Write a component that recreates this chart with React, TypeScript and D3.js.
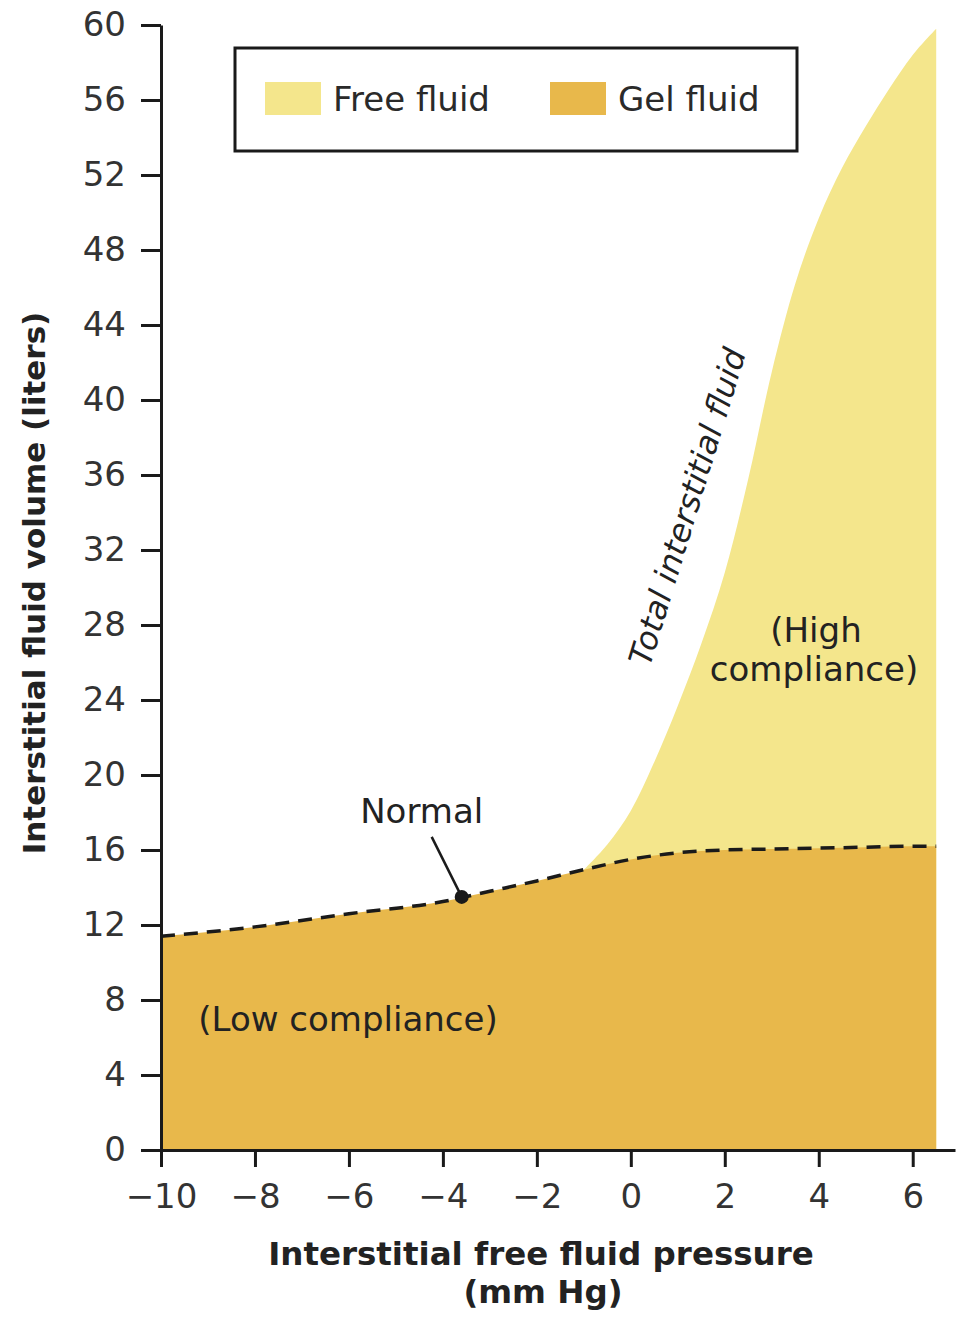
import React, { useEffect, useRef } from 'react';
import * as d3 from 'd3';

// Interstitial fluid volume vs interstitial free fluid pressure.
// Gel fluid fills the bottom; free fluid sits on top of it once pressure goes positive.

const W = 961;
const H = 1318;

const pressure = [-10, -8, -6, -4, -3, -2, -1, 0, 1, 2, 3, 4, 5, 6, 6.5];
const gelVolume = [11.4, 11.9, 12.6, 13.25, 13.8, 14.35, 14.95, 15.5, 15.85, 16.0, 16.05, 16.1, 16.15, 16.2, 16.2];

const totalPressure = [-1.0, -0.5, 0, 0.5, 1.0, 1.5, 2.0, 2.5, 3.0, 3.5, 4.0, 4.5, 5.0, 5.5, 6.0, 6.5];
const totalVolume = [14.95, 16.3, 18.1, 20.7, 23.7, 27.0, 30.8, 35.8, 41.5, 46.2, 49.7, 52.4, 54.6, 56.6, 58.4, 59.8];

const normalPressure = -3.6;
const normalVolume = 13.5;

const xTicks = [-10, -8, -6, -4, -2, 0, 2, 4, 6];
const yTicks = [0, 4, 8, 12, 16, 20, 24, 28, 32, 36, 40, 44, 48, 52, 56, 60];

const legendLabels = ['Free fluid', 'Gel fluid'];

const FREE_COLOR = '#f4e68c';
const GEL_COLOR = '#e8b84b';
const INK = '#222';
const FONT = '"DejaVu Sans", Verdana, sans-serif';

const App = () => {
  const svgRef = useRef<SVGSVGElement>(null);

  useEffect(() => {
    const svg = d3.select(svgRef.current);
    svg.selectAll('*').remove();

    const x = d3.scaleLinear().domain([-10, 6.9]).range([161, 955]);
    const y = d3.scaleLinear().domain([0, 60]).range([1150, 25]);

    svg.append('rect').attr('width', W).attr('height', H).attr('fill', '#fff');

    // free fluid (total interstitial) area, gel drawn over it
    const totalArea = d3.area<number>()
      .x((d, i) => x(totalPressure[i]))
      .y0(y(0))
      .y1(d => y(d))
      .curve(d3.curveCatmullRom.alpha(0.5));

    svg.append('path')
      .attr('d', totalArea(totalVolume))
      .attr('fill', FREE_COLOR);

    const gelArea = d3.area<number>()
      .x((d, i) => x(pressure[i]))
      .y0(y(0))
      .y1(d => y(d))
      .curve(d3.curveMonotoneX);

    svg.append('path')
      .attr('d', gelArea(gelVolume))
      .attr('fill', GEL_COLOR);

    const gelLine = d3.line<number>()
      .x((d, i) => x(pressure[i]))
      .y(d => y(d))
      .curve(d3.curveMonotoneX);

    svg.append('path')
      .attr('d', gelLine(gelVolume))
      .attr('fill', 'none')
      .attr('stroke', '#1a1a1a')
      .attr('stroke-width', 3.5)
      .attr('stroke-dasharray', '14 9');

    // axes
    const yAxis = svg.append('g')
      .attr('transform', `translate(${x(-10)},0)`)
      .call(d3.axisLeft(y).tickValues(yTicks).tickSize(20).tickSizeOuter(0).tickPadding(15).tickFormat(d3.format('d')));

    const xAxis = svg.append('g')
      .attr('transform', `translate(0,${y(0)})`)
      .call(d3.axisBottom(x).tickValues(xTicks).tickSize(17).tickSizeOuter(0).tickPadding(17));

    [yAxis, xAxis].forEach(ax => {
      ax.select('.domain').attr('stroke', '#1a1a1a').attr('stroke-width', 3);
      ax.selectAll('.tick line').attr('stroke', '#1a1a1a').attr('stroke-width', 3);
      ax.selectAll('.tick text')
        .attr('fill', '#333')
        .style('font-family', FONT)
        .style('font-size', '34px');
    });

    // axis titles
    svg.append('text')
      .attr('transform', `translate(45,${583}) rotate(-90)`)
      .attr('text-anchor', 'middle')
      .attr('fill', INK)
      .style('font-family', FONT)
      .style('font-weight', 'bold')
      .style('font-size', '31px')
      .text('Interstitial fluid volume (liters)');

    svg.append('text')
      .attr('x', 541)
      .attr('y', 1265)
      .attr('text-anchor', 'middle')
      .attr('fill', INK)
      .style('font-family', FONT)
      .style('font-weight', 'bold')
      .style('font-size', '32.5px')
      .text('Interstitial free fluid pressure');

    svg.append('text')
      .attr('x', 543)
      .attr('y', 1303)
      .attr('text-anchor', 'middle')
      .attr('fill', INK)
      .style('font-family', FONT)
      .style('font-weight', 'bold')
      .style('font-size', '32.5px')
      .text('(mm Hg)');

    // legend
    const lg = svg.append('g');
    lg.append('rect')
      .attr('x', 235).attr('y', 48)
      .attr('width', 562).attr('height', 103)
      .attr('fill', '#fff')
      .attr('stroke', '#1a1a1a')
      .attr('stroke-width', 3);
    const legendColors = [FREE_COLOR, GEL_COLOR];
    const legendX = [265, 550];
    legendLabels.forEach((lab, i) => {
      lg.append('rect')
        .attr('x', legendX[i]).attr('y', 82)
        .attr('width', 56).attr('height', 33)
        .attr('fill', legendColors[i]);
      lg.append('text')
        .attr('x', legendX[i] + 68)
        .attr('y', 111)
        .attr('fill', '#2a2a2a')
        .style('font-family', FONT)
        .style('font-size', '34px')
        .text(lab);
    });

    // annotations
    const label = (tx: number, ty: number, txt: string, anchor = 'middle') =>
      svg.append('text')
        .attr('x', tx).attr('y', ty)
        .attr('text-anchor', anchor)
        .attr('fill', INK)
        .style('font-family', FONT)
        .style('font-size', '34px')
        .text(txt);

    label(348, 1031, '(Low compliance)');
    label(816, 642, '(High');
    label(814, 681, 'compliance)');

    svg.append('text')
      .attr('transform', 'translate(698,510) rotate(-73)')
      .attr('text-anchor', 'middle')
      .attr('fill', INK)
      .style('font-family', FONT)
      .style('font-style', 'italic')
      .style('font-size', '32px')
      .text('Total interstitial fluid');

    // normal point
    const nx = x(normalPressure);
    const ny = y(normalVolume);
    label(nx - 40, ny - 74, 'Normal');
    svg.append('line')
      .attr('x1', nx - 30).attr('y1', ny - 60)
      .attr('x2', nx).attr('y2', ny)
      .attr('stroke', '#1a1a1a')
      .attr('stroke-width', 2.5);
    svg.append('circle')
      .attr('cx', nx).attr('cy', ny)
      .attr('r', 7)
      .attr('fill', '#1a1a1a');
  }, []);

  return (
    <svg ref={svgRef} width={W} height={H}
      style={{ position: 'absolute', left: 0, top: 0, display: 'block' }} />
  );
};

export default App;
